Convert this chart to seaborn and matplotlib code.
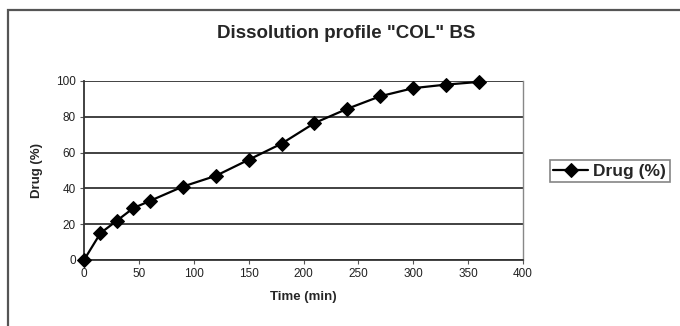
import matplotlib
matplotlib.use("Agg")
import matplotlib.pyplot as plt
from matplotlib.patches import Rectangle
import seaborn as sns
import pandas as pd

# Dissolution time points (min) and cumulative drug release (%)
time_min = [0, 15, 30, 45, 60, 90, 120, 150, 180, 210, 240, 270, 300, 330, 360]
drug_pct = [0, 15, 22, 29, 33, 41, 47, 56, 65, 76.5, 84.5, 91.5, 96, 98, 99.5]
x_ticks = [0, 50, 100, 150, 200, 250, 300, 350, 400]
y_ticks = [0, 20, 40, 60, 80, 100]

df = pd.DataFrame({"Time (min)": time_min, "Drug (%)": drug_pct})

sns.set_style("white")
plt.rcParams["font.family"] = ["Liberation Sans", "DejaVu Sans"]

fig = plt.figure(figsize=(6.8, 3.26), dpi=100)
ax = fig.add_axes([84 / 680, 66 / 326, 439 / 680, 179 / 326])

# chart-area frame
fig.patches.append(Rectangle((8 / 680, -0.2), 1.2, 1.2 - 10 / 326,
                             transform=fig.transFigure, fill=False,
                             edgecolor="#555555", linewidth=1.6, zorder=0))

sns.lineplot(data=df, x="Time (min)", y="Drug (%)", ax=ax, color="black",
             marker="D", markersize=7, linewidth=1.6, markeredgecolor="black",
             label="Drug (%)", legend=False, clip_on=False, zorder=5)

ax.set_xlim(0, 400)
ax.set_ylim(0, 100)
ax.set_xticks(x_ticks)
ax.set_yticks(y_ticks)
ax.tick_params(axis="both", labelsize=8.5, length=3, width=0.8, color="#555555",
               labelcolor="#222222", pad=3, direction="out",
               bottom=True, left=True)

ax.yaxis.grid(True, color="#333333", linewidth=1.3)
ax.xaxis.grid(False)
ax.set_axisbelow(True)

for side in ["left", "bottom"]:
    ax.spines[side].set_color("#333333")
    ax.spines[side].set_linewidth(1.3)
ax.spines["right"].set_color("#888888")
ax.spines["right"].set_linewidth(1.0)
ax.spines["top"].set_visible(False)

ax.set_xlabel("Time (min)", fontsize=9.5, fontweight="bold", labelpad=8)
ax.set_ylabel("Drug (%)", fontsize=9.5, fontweight="bold", labelpad=9)

fig.text(346 / 680, 1 - 33 / 326, 'Dissolution profile "COL" BS',
         ha="center", va="center", fontsize=13.5, fontweight="bold")

handles, labels = ax.get_legend_handles_labels()
leg = fig.legend(handles, labels, loc="center left",
                 bbox_to_anchor=(550 / 680, 1 - 171 / 326),
                 prop={"weight": "bold", "size": 12.5}, frameon=True,
                 fancybox=False, edgecolor="#666666", handlelength=2.0,
                 handletextpad=0.3, borderpad=0.2, borderaxespad=0)
leg.get_frame().set_linewidth(1.2)

fig.savefig("out.png", dpi=100)
